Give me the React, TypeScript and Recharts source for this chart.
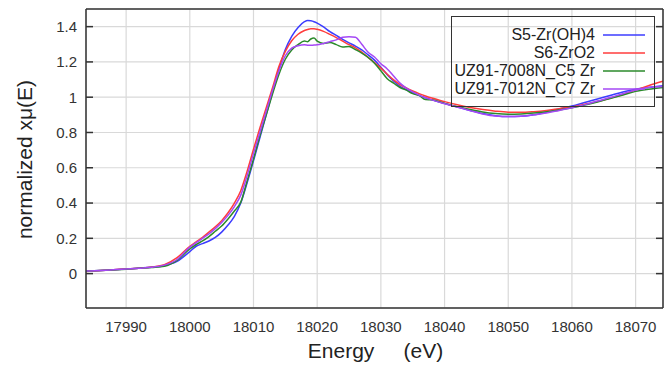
import React from 'react'
import { LineChart, Line, XAxis, YAxis, CartesianGrid, Legend } from 'recharts'

const FONT = '"Liberation Sans", Arial, sans-serif'

// energy grid (eV)
const energy = [
  17983.7, 17986, 17988, 17990, 17992, 17994, 17996, 17998,
  18000, 18001, 18002, 18003, 18004, 18005, 18006, 18007, 18008, 18009,
  18010, 18011, 18012, 18013, 18014, 18015, 18016, 18017, 18018,
  18018.5, 18019, 18019.5,
  18020, 18021, 18022, 18023, 18024, 18025, 18026, 18027, 18028, 18029,
  18030, 18031, 18032, 18033, 18034, 18035, 18036, 18037, 18038,
  18040, 18042, 18044, 18046, 18048, 18050, 18052, 18054, 18056, 18058,
  18060, 18062, 18064, 18066, 18068, 18070, 18072, 18074.3,
]

const s5ZrOH4 = [
  0.015, 0.018, 0.022, 0.026, 0.031, 0.036, 0.045, 0.07,
  0.125, 0.155, 0.17, 0.185, 0.205, 0.235, 0.275, 0.325, 0.4, 0.515,
  0.64, 0.77, 0.9, 1.03, 1.16, 1.27, 1.345, 1.395, 1.428,
  1.435, 1.433, 1.428,
  1.42, 1.398, 1.372, 1.35, 1.328, 1.308, 1.29, 1.268, 1.24, 1.21,
  1.17, 1.128, 1.092, 1.062, 1.042, 1.025, 1.01, 0.997, 0.985,
  0.965, 0.945, 0.925, 0.907, 0.895, 0.89, 0.892, 0.9, 0.915, 0.933,
  0.95, 0.97, 0.99, 1.01, 1.03, 1.045, 1.055, 1.065,
]

const s6ZrO2 = [
  0.012, 0.017, 0.022, 0.026, 0.031, 0.037, 0.05, 0.09,
  0.155, 0.18, 0.205, 0.235, 0.265, 0.3, 0.345, 0.4, 0.47, 0.58,
  0.705, 0.825, 0.94, 1.055, 1.175, 1.26, 1.32, 1.357, 1.378,
  1.384, 1.388, 1.388,
  1.385, 1.373, 1.356, 1.338, 1.318, 1.298, 1.28, 1.256, 1.226, 1.196,
  1.165, 1.13, 1.098, 1.072, 1.052, 1.035, 1.02, 1.007, 0.995,
  0.975, 0.957, 0.942, 0.93, 0.921, 0.915, 0.914, 0.918, 0.925, 0.935,
  0.945, 0.96, 0.976, 0.995, 1.015, 1.04, 1.065, 1.09,
]

const uz7008 = [
  0.014, 0.017, 0.021, 0.025, 0.03, 0.035, 0.042, 0.075,
  0.14, 0.165, 0.185, 0.21, 0.24, 0.27, 0.31, 0.355, 0.405, 0.525,
  0.65, 0.78, 0.9, 1.02, 1.13, 1.215, 1.268, 1.298, 1.318,
  1.315, 1.33, 1.335,
  1.318, 1.305, 1.31, 1.298, 1.285, 1.288, 1.27, 1.25, 1.225, 1.193,
  1.15, 1.105, 1.08, 1.055, 1.04, 1.02, 1.01, 0.987, 0.985,
  0.965, 0.946, 0.93, 0.916, 0.907, 0.903, 0.905, 0.91, 0.918, 0.928,
  0.94, 0.955, 0.973, 0.993, 1.013, 1.033, 1.045, 1.055,
]

const uz7012 = [
  0.015, 0.018, 0.022, 0.026, 0.031, 0.036, 0.048, 0.08,
  0.15, 0.175, 0.2, 0.225, 0.255, 0.29, 0.33, 0.38, 0.445, 0.555,
  0.68, 0.8, 0.92, 1.04, 1.15, 1.235, 1.278, 1.292, 1.297,
  1.295, 1.294, 1.296,
  1.297, 1.305, 1.315, 1.325, 1.34, 1.343, 1.34, 1.3, 1.255, 1.228,
  1.19, 1.16, 1.12, 1.08, 1.052, 1.03, 1.012, 0.997, 0.985,
  0.963, 0.944, 0.924, 0.905, 0.893, 0.89, 0.892, 0.9, 0.91, 0.925,
  0.94, 0.958, 0.978, 0.998, 1.02, 1.04, 1.055, 1.06,
]

const seriesNames = ['S5-Zr(OH)4', 'S6-ZrO2', 'UZ91-7008N_C5 Zr', 'UZ91-7012N_C7 Zr']
const seriesColors = ['#3c3cff', '#ff3c3c', '#2b8a2b', '#a548f5']
const seriesValues = [s5ZrOH4, s6ZrO2, uz7008, uz7012]

const xTicks = [17990, 18000, 18010, 18020, 18030, 18040, 18050, 18060, 18070]
const yTicks = [0, 0.2, 0.4, 0.6, 0.8, 1, 1.2, 1.4]
const xDomain = [17983.7, 18074.3]
const yDomain = [-0.195, 1.5]

const data = energy.map((e, i) => {
  const row: Record<string, number> = { e }
  seriesValues.forEach((vals, k) => { row[`s${k}`] = vals[i] })
  return row
})

const frame = { stroke: '#333', strokeWidth: 1.5 }
const tickText = { fontSize: 15, fill: '#333', fontFamily: FONT }

function LegendBox({ payload }: any) {
  return (
    <div
      style={{
        width: 204, height: 91, boxSizing: 'border-box', border: '1px solid #333',
        padding: '9px 9px 0 0', fontFamily: FONT, fontSize: 16, color: '#222',
      }}
    >
      {(payload || []).map((p: any) => (
        <div key={p.value} style={{ display: 'flex', justifyContent: 'flex-end', alignItems: 'center', height: 18 }}>
          <span style={{ lineHeight: '18px' }}>{p.value}</span>
          <svg width={42} height={4} style={{ marginLeft: 8 }}>
            <line x1={0} y1={2} x2={42} y2={2} stroke={p.color} strokeWidth={1.5} />
          </svg>
        </div>
      ))}
    </div>
  )
}

function YLabel({ viewBox }: any) {
  const cy = viewBox.y + viewBox.height / 2 + 1
  return (
    <text x={32} y={cy} transform={`rotate(-90, 32, ${cy})`} textAnchor="middle"
      style={{ fontSize: 21, fill: '#222', fontFamily: FONT }}>
      normalized xμ(E)
    </text>
  )
}

function XLabel({ viewBox }: any) {
  const cx = viewBox.x + viewBox.width / 2 + 1
  return (
    <text x={cx} y={358} textAnchor="middle"
      style={{ fontSize: 21, fill: '#222', fontFamily: FONT, whiteSpace: 'pre' }}>
      {'Energy     (eV)'}
    </text>
  )
}

export default function App() {
  return (
    <div style={{ position: 'absolute', left: 0, top: 0, background: '#fff' }}>
      <LineChart width={672} height={365} data={data} margin={{ top: 9, right: 9, bottom: 0, left: 0 }}>
        <CartesianGrid stroke="#d9d9d9" strokeWidth={1.2} />
        <XAxis
          dataKey="e" type="number" domain={xDomain} ticks={xTicks} allowDataOverflow
          height={57} tickSize={0} tickMargin={13} tickLine={false}
          axisLine={frame} tick={tickText} label={<XLabel />}
        />
        <XAxis
          xAxisId="bm" type="number" domain={xDomain} ticks={xTicks} allowDataOverflow
          orientation="bottom" mirror tickSize={7} tickFormatter={() => ''}
          axisLine={false} tickLine={frame}
        />
        <XAxis
          xAxisId="top" type="number" domain={xDomain} ticks={xTicks} allowDataOverflow
          orientation="top" mirror tickSize={7} tickFormatter={() => ''}
          axisLine={frame} tickLine={frame}
        />
        <YAxis
          type="number" domain={yDomain} ticks={yTicks} allowDataOverflow
          width={86} tickSize={0} tickMargin={9} tickLine={false}
          axisLine={frame} tick={tickText} label={<YLabel />}
        />
        <YAxis
          yAxisId="lm" type="number" domain={yDomain} ticks={yTicks} allowDataOverflow
          orientation="left" mirror tickSize={7} tickFormatter={() => ''}
          axisLine={false} tickLine={frame}
        />
        <YAxis
          yAxisId="right" type="number" domain={yDomain} ticks={yTicks} allowDataOverflow
          orientation="right" mirror tickSize={7} tickFormatter={() => ''}
          axisLine={frame} tickLine={frame}
        />
        <Legend
          layout="horizontal" verticalAlign="middle" align="center" width={204}
          wrapperStyle={{ left: 451, top: 16 }} content={<LegendBox />}
        />
        {seriesNames.map((name, k) => (
          <Line
            key={name} dataKey={`s${k}`} name={name} type="monotone"
            stroke={seriesColors[k]} strokeWidth={1.5} dot={false}
            isAnimationActive={false}
          />
        ))}
      </LineChart>
    </div>
  )
}
